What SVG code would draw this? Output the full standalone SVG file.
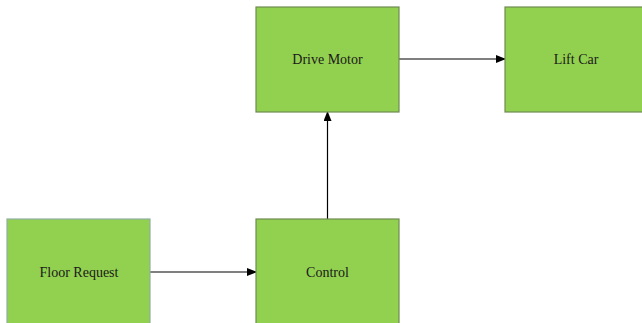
<svg xmlns="http://www.w3.org/2000/svg" width="642" height="323" viewBox="0 0 642 323">
<style>
.box{fill:#92D050;stroke:#6E8B50;stroke-width:1.2}
.lbl{font-family:'Liberation Serif','Times New Roman','DejaVu Serif',serif;font-size:14px;fill:#1a1a1a;text-anchor:middle}
.edge{stroke:#000;stroke-width:1.2;fill:none;marker-end:url(#arr)}
</style>
<defs>
<marker id="arr" markerWidth="10" markerHeight="8" refX="9" refY="4" orient="auto" markerUnits="userSpaceOnUse">
<path d="M0,0 L10,4 L0,8 Z" fill="#000"/>
</marker>
</defs>
<rect width="642" height="323" fill="#fff"/>
<g id="connectors">
<line class="edge" x1="150" y1="272" x2="256" y2="272"/>
<line class="edge" x1="327.5" y1="219" x2="327.5" y2="112"/>
<line class="edge" x1="399" y1="59" x2="505" y2="59"/>
</g>
<g id="drive-motor">
<rect class="box" x="256" y="7" width="143" height="105"/>
<text class="lbl" x="327.5" y="64">Drive Motor</text>
</g>
<g id="lift-car">
<rect class="box" x="505" y="7" width="140" height="105"/>
<text class="lbl" x="576" y="64">Lift Car</text>
</g>
<g id="floor-request">
<rect class="box" x="7" y="219" width="143" height="110" style="stroke:#8FB0A0"/>
<text class="lbl" x="79" y="277">Floor Request</text>
</g>
<g id="control">
<rect class="box" x="256" y="219" width="143" height="110"/>
<text class="lbl" x="327.5" y="277">Control</text>
</g>
</svg>
